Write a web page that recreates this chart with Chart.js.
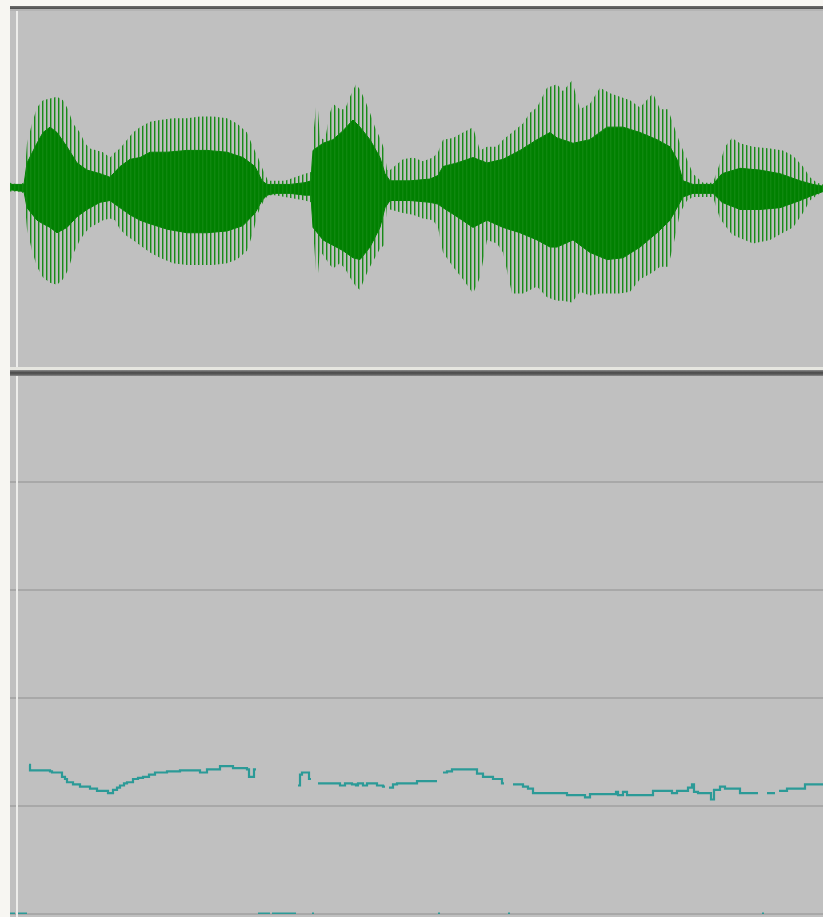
<!DOCTYPE html>
<html>
<head>
<meta charset="utf-8">
<title>Waveform and pitch</title>
<script src="https://cdn.jsdelivr.net/npm/chart.js@4.4.1/dist/chart.umd.min.js"></script>
<style>
html, body { margin: 0; padding: 0; }
body { width: 823px; height: 917px; background: #f7f6f2; position: relative; overflow: hidden; }
.abs { position: absolute; }
#wavePanel { left: 10px; top: 6px; width: 813px; height: 364px; background: #c0c0c0; }
#pitchPanel { left: 10px; top: 371px; width: 813px; height: 546px; background: #c0c0c0; }
#topEdge { left: 10px; top: 6px; width: 813px; height: 3px; background: linear-gradient(#6c6c6c, #4e4e4e); z-index: 5; }
#topInner { left: 10px; top: 9px; width: 813px; height: 2px; background: #b4b4b4; z-index: 5; }
#sepLight { left: 10px; top: 367px; width: 813px; height: 3px; background: #e6e6e0; z-index: 5; }
#sepDark { left: 10px; top: 370px; width: 813px; height: 6px; background: linear-gradient(#8c8c8c, #4a4a4a 45%, #5a5a5a 70%, #8a8a8a); z-index: 5; }
#cursorTop { left: 16px; top: 11px; width: 2px; height: 356px; background: #ededeb; z-index: 1; }
#cursorBottom { left: 16px; top: 376px; width: 2px; height: 541px; background: #ededeb; z-index: 4; }
canvas { position: absolute; z-index: 2; }
#waveCanvas { left: 10px; top: 9px; }
#pitchCanvas { left: 10px; top: 374px; }
</style>
</head>
<body>
<div id="wavePanel" class="abs"></div>
<div id="pitchPanel" class="abs"></div>
<div id="cursorTop" class="abs"></div>
<canvas id="waveCanvas" width="813" height="358"></canvas>
<canvas id="pitchCanvas" width="813" height="543"></canvas>
<div id="cursorBottom" class="abs"></div>
<div id="topEdge" class="abs"></div>
<div id="topInner" class="abs"></div>
<div id="sepLight" class="abs"></div>
<div id="sepDark" class="abs"></div>
<script>
// Visible time window (s), shared by both panels
const T_END = 1.626;

// Waveform: outer envelope of the glottal pulse peaks (amplitude, -1..1)
const spikeTime = [
  0.000, 0.016, 0.028, 0.034, 0.044, 0.054, 0.066, 0.080, 0.094, 0.106,
  0.116, 0.126, 0.140, 0.150, 0.160, 0.174, 0.186, 0.200, 0.210, 0.220,
  0.234, 0.246, 0.260, 0.280, 0.300, 0.326, 0.354, 0.380, 0.406, 0.434,
  0.454, 0.474, 0.486, 0.496, 0.506, 0.516, 0.530, 0.550, 0.570, 0.590,
  0.602, 0.606, 0.614, 0.620, 0.630, 0.640, 0.646, 0.660, 0.670, 0.680,
  0.692, 0.700, 0.710, 0.720, 0.730, 0.740, 0.748, 0.754, 0.760, 0.786,
  0.806, 0.826, 0.846, 0.856, 0.866, 0.886, 0.906, 0.926, 0.940, 0.954,
  0.974, 0.986, 1.004, 1.026, 1.040, 1.054, 1.074, 1.094, 1.106, 1.124,
  1.140, 1.160, 1.180, 1.200, 1.220, 1.240, 1.260, 1.286, 1.300, 1.316,
  1.326, 1.340, 1.354, 1.366, 1.386, 1.406, 1.420, 1.430, 1.444, 1.460,
  1.486, 1.520, 1.546, 1.566, 1.586, 1.600, 1.614, 1.626
];
const spikeMax = [
  0.03, 0.02, 0.03, 0.25, 0.36, 0.45, 0.49, 0.50, 0.51, 0.49,
  0.44, 0.36, 0.31, 0.25, 0.22, 0.21, 0.20, 0.17, 0.20, 0.22,
  0.27, 0.31, 0.34, 0.37, 0.38, 0.39, 0.39, 0.40, 0.40, 0.39,
  0.36, 0.31, 0.23, 0.17, 0.10, 0.04, 0.04, 0.04, 0.06, 0.08,
  0.09, 0.28, 0.51, 0.28, 0.27, 0.42, 0.47, 0.44, 0.44, 0.51,
  0.58, 0.55, 0.49, 0.42, 0.34, 0.28, 0.22, 0.10, 0.10, 0.16,
  0.17, 0.15, 0.17, 0.20, 0.27, 0.28, 0.31, 0.34, 0.21, 0.23,
  0.23, 0.27, 0.31, 0.36, 0.42, 0.45, 0.56, 0.58, 0.54, 0.60,
  0.44, 0.47, 0.56, 0.53, 0.51, 0.49, 0.45, 0.53, 0.44, 0.44,
  0.36, 0.25, 0.16, 0.08, 0.03, 0.03, 0.14, 0.23, 0.28, 0.25,
  0.23, 0.22, 0.21, 0.18, 0.12, 0.06, 0.03, 0.02
];
const spikeMin = [
  -0.02, -0.02, -0.03, -0.23, -0.35, -0.44, -0.50, -0.53, -0.54, -0.51,
  -0.46, -0.37, -0.29, -0.25, -0.22, -0.20, -0.18, -0.17, -0.18, -0.23,
  -0.27, -0.29, -0.32, -0.36, -0.39, -0.42, -0.43, -0.43, -0.43, -0.42,
  -0.40, -0.35, -0.25, -0.14, -0.08, -0.04, -0.04, -0.05, -0.06, -0.07,
  -0.08, -0.23, -0.54, -0.35, -0.39, -0.43, -0.45, -0.42, -0.45, -0.50,
  -0.55, -0.57, -0.50, -0.44, -0.39, -0.34, -0.32, -0.09, -0.12, -0.14,
  -0.15, -0.17, -0.18, -0.22, -0.36, -0.44, -0.51, -0.59, -0.50, -0.29,
  -0.31, -0.36, -0.59, -0.59, -0.57, -0.55, -0.61, -0.63, -0.63, -0.64,
  -0.58, -0.60, -0.59, -0.59, -0.59, -0.58, -0.51, -0.47, -0.44, -0.44,
  -0.33, -0.14, -0.07, -0.05, -0.05, -0.05, -0.17, -0.21, -0.26, -0.28,
  -0.31, -0.29, -0.25, -0.22, -0.14, -0.07, -0.04, -0.02
];

// Waveform: dense body between pulses
const bodyTime = [
  0.000, 0.028, 0.034, 0.054, 0.066, 0.080, 0.094, 0.114, 0.134, 0.154,
  0.180, 0.200, 0.220, 0.240, 0.260, 0.280, 0.314, 0.354, 0.394, 0.434,
  0.466, 0.490, 0.504, 0.514, 0.530, 0.560, 0.590, 0.602, 0.606, 0.626,
  0.646, 0.666, 0.686, 0.700, 0.720, 0.740, 0.750, 0.760, 0.800, 0.840,
  0.856, 0.866, 0.894, 0.926, 0.954, 0.986, 1.020, 1.054, 1.080, 1.094,
  1.126, 1.160, 1.194, 1.226, 1.260, 1.294, 1.320, 1.334, 1.346, 1.366,
  1.406, 1.424, 1.460, 1.500, 1.540, 1.580, 1.606, 1.626
];
const bodyMax = [
  0.02, 0.02, 0.14, 0.25, 0.31, 0.34, 0.31, 0.23, 0.14, 0.10,
  0.08, 0.06, 0.12, 0.16, 0.17, 0.20, 0.20, 0.21, 0.21, 0.20,
  0.17, 0.12, 0.04, 0.02, 0.02, 0.02, 0.03, 0.04, 0.21, 0.25,
  0.27, 0.32, 0.38, 0.34, 0.27, 0.17, 0.08, 0.04, 0.04, 0.05,
  0.07, 0.12, 0.14, 0.17, 0.14, 0.16, 0.21, 0.27, 0.31, 0.28,
  0.25, 0.27, 0.34, 0.34, 0.31, 0.27, 0.23, 0.16, 0.04, 0.02,
  0.02, 0.08, 0.11, 0.10, 0.08, 0.04, 0.02, 0.01
];
const bodyMin = [
  -0.01, -0.02, -0.11, -0.18, -0.20, -0.22, -0.25, -0.22, -0.16, -0.12,
  -0.08, -0.07, -0.11, -0.15, -0.18, -0.20, -0.23, -0.25, -0.25, -0.24,
  -0.21, -0.14, -0.07, -0.04, -0.03, -0.03, -0.04, -0.04, -0.22, -0.29,
  -0.32, -0.35, -0.39, -0.40, -0.33, -0.22, -0.11, -0.07, -0.07, -0.08,
  -0.09, -0.11, -0.16, -0.22, -0.18, -0.22, -0.25, -0.29, -0.33, -0.33,
  -0.29, -0.36, -0.40, -0.39, -0.33, -0.25, -0.18, -0.11, -0.05, -0.03,
  -0.03, -0.08, -0.12, -0.12, -0.11, -0.07, -0.04, -0.02
];

// Pitch contour (Hz); null breaks the line between voiced stretches
const pitchTime = [
  0.038, 0.040, 0.080, 0.084, 0.104, 0.110, 0.114, 0.126, 0.140, 0.160,
  0.174, 0.196, 0.206, 0.214, 0.220, 0.228, 0.234, 0.246, 0.256, 0.266,
  0.278, 0.290, 0.314, 0.340, 0.380, 0.394, 0.420, 0.446, 0.474, 0.478,
  0.488, 0.492, 0.494,
  0.576, 0.580, 0.584, 0.598, 0.602, 0.604,
  0.616, 0.660, 0.670, 0.684, 0.692, 0.696, 0.706, 0.714, 0.734, 0.746, 0.750, 0.752,
  0.758, 0.766, 0.774, 0.814, 0.854, 0.856,
  0.866, 0.874, 0.884, 0.934, 0.946, 0.966, 0.984, 0.988, 0.990,
  1.006, 1.026, 1.036, 1.046, 1.114, 1.150, 1.160, 1.212, 1.216, 1.226,
  1.234, 1.286, 1.324, 1.334, 1.356, 1.364, 1.368, 1.376, 1.402, 1.408,
  1.420, 1.430, 1.460, 1.496, 1.498,
  1.514, 1.530, 1.532,
  1.538, 1.554, 1.590, 1.626
];
const pitchHz = [
  138, 133, 132, 131, 127, 125, 122, 120, 118, 116,
  114, 112, 115, 117, 119, 121, 122, 125, 126, 127,
  129, 131, 132, 133, 131, 134, 137, 135, 134, 127,
  134, 134, null,
  119, 129, 131, 125, 125, null,
  121, 119, 121, 120, 119, 121, 119, 121, 119, 118, 118, null,
  117, 120, 121, 123, 123, null,
  131, 132, 134, 130, 127, 125, 121, 121, null,
  120, 118, 116, 112, 110, 108, 111, 113, 110, 113,
  110, 114, 112, 114, 117, 120, 113, 112, 106, 115,
  118, 116, 112, 112, null,
  112, 112, null,
  114, 116, 120, 120
];

// Unvoiced frames, drawn on the 0 Hz baseline
const unvoicedStart = [0.000, 0.016, 0.496, 0.524, 0.604, 0.856, 0.996, 1.504];
const unvoicedEnd   = [0.010, 0.034, 0.520, 0.572, 0.608, 0.860, 1.000, 1.508];

// Pitch axis range and grid
const pitchMin = 0;
const pitchMax = 500;
const pitchGridStep = 100;

const toPoints = (xs, ys) => xs.map((x, i) => ({ x: x, y: ys[i] }));

const unvoicedPoints = [];
unvoicedStart.forEach((s, i) => {
  unvoicedPoints.push({ x: s, y: 0 }, { x: unvoicedEnd[i], y: 0 }, { x: unvoicedEnd[i], y: null });
});

const WAVE_GREEN = '#008000';
const PITCH_TEAL = '#2b9a97';

// Vertical hatch used to render individual pulse strokes inside the peak envelope
const waveCanvas = document.getElementById('waveCanvas');
function pulseHatch() {
  const tile = document.createElement('canvas');
  tile.width = 4; tile.height = 1;
  const g = tile.getContext('2d');
  g.fillStyle = 'rgba(16,136,16,0.95)';
  g.fillRect(0, 0, 1, 1);
  g.fillStyle = 'rgba(16,136,16,0.4)';
  g.fillRect(1, 0, 1, 1);
  return waveCanvas.getContext('2d').createPattern(tile, 'repeat');
}

const common = {
  responsive: false,
  animation: false,
  devicePixelRatio: 1,
  events: [],
  layout: { padding: 0 },
  plugins: { legend: { display: false }, tooltip: { enabled: false } },
  elements: { point: { radius: 0 }, line: { tension: 0 } }
};

new Chart(waveCanvas, {
  type: 'line',
  data: {
    datasets: [
      { data: toPoints(spikeTime, spikeMax), borderColor: 'rgba(0,0,0,0)', borderWidth: 1, fill: false },
      { data: toPoints(spikeTime, spikeMin), borderColor: 'rgba(0,0,0,0)', borderWidth: 1, fill: '-1', backgroundColor: pulseHatch() },
      { data: toPoints(bodyTime, bodyMax), borderColor: WAVE_GREEN, borderWidth: 1, fill: false },
      { data: toPoints(bodyTime, bodyMin), borderColor: WAVE_GREEN, borderWidth: 1, fill: '-1', backgroundColor: WAVE_GREEN }
    ]
  },
  options: Object.assign({}, common, {
    scales: {
      x: { type: 'linear', min: 0, max: T_END, display: false },
      y: { type: 'linear', min: -1, max: 1, display: false }
    }
  })
});

new Chart(document.getElementById('pitchCanvas'), {
  type: 'line',
  data: {
    datasets: [
      { data: toPoints(pitchTime, pitchHz), borderColor: PITCH_TEAL, borderWidth: 2.2, stepped: true, spanGaps: false, fill: false },
      { data: unvoicedPoints, borderColor: PITCH_TEAL, borderWidth: 3, spanGaps: false, fill: false }
    ]
  },
  options: Object.assign({}, common, {
    layout: { padding: { bottom: 3 } },
    scales: {
      x: { type: 'linear', min: 0, max: T_END, display: false },
      y: {
        type: 'linear', min: pitchMin, max: pitchMax, position: 'left',
        afterFit(axis) { axis.width = 0; },
        ticks: { display: false, stepSize: pitchGridStep },
        border: { display: false },
        grid: {
          drawTicks: false,
          lineWidth: 2,
          color: (c) => (c.tick && c.tick.value === pitchMax) ? 'rgba(0,0,0,0)' : '#a8a8a8'
        }
      }
    }
  })
});
</script>
</body>
</html>
